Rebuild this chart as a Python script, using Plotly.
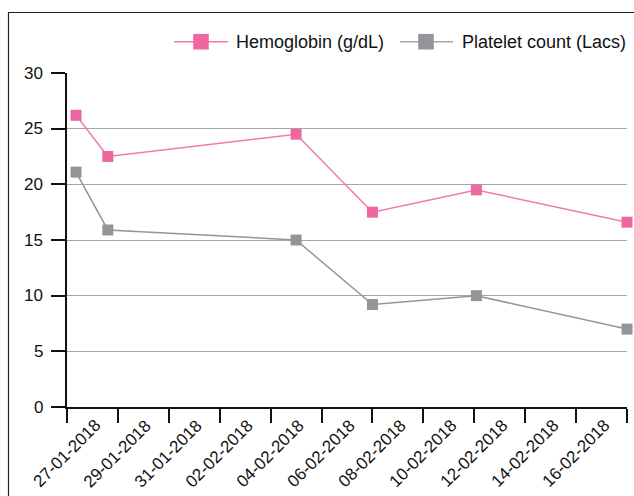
import plotly.graph_objects as go

dates = ["2018-01-27 08:30", "2018-01-28 14:30", "2018-02-05 00:00",
         "2018-02-08 00:00", "2018-02-12 02:00", "2018-02-18 00:00"]
hemoglobin = [26.2, 22.5, 24.5, 17.5, 19.5, 16.6]
platelet = [21.1, 15.9, 15.0, 9.2, 10.0, 7.0]

tick_vals = ["2018-01-27", "2018-01-29", "2018-01-31", "2018-02-02", "2018-02-04",
             "2018-02-06", "2018-02-08", "2018-02-10", "2018-02-12", "2018-02-14",
             "2018-02-16", "2018-02-18"]
tick_text = ["27-01-2018", "29-01-2018", "31-01-2018", "02-02-2018", "04-02-2018",
             "06-02-2018", "08-02-2018", "10-02-2018", "12-02-2018", "14-02-2018",
             "16-02-2018", ""]
y_ticks = [0, 5, 10, 15, 20, 25, 30]
y_tick_text = ["0", "5", "10", "15", "20", "25", "30"]
series_names = ["Hemoglobin (g/dL)", "Platelet count (Lacs)"]

PINK = "#ef67a1"
PINK_LINE = "#f07aae"
GRAY = "#949599"
FONT = "Liberation Sans, Arial, sans-serif"

# plot-area geometry (pixels) used to place paper-referenced decorations
L, R, T, B = 67, 7, 73, 89
W, H = 634, 496
PW, PH = W - L - R, H - T - B


def px(x):
    return (x - L) / PW


def py(y):
    return (H - B - y) / PH


fig = go.Figure()
fig.add_trace(go.Scatter(x=dates, y=hemoglobin, name=series_names[0],
                         mode="lines+markers", cliponaxis=False,
                         line=dict(color=PINK_LINE, width=1.5),
                         marker=dict(symbol="square", size=11, color=PINK)))
fig.add_trace(go.Scatter(x=dates, y=platelet, name=series_names[1],
                         mode="lines+markers", cliponaxis=False,
                         line=dict(color=GRAY, width=1.5),
                         marker=dict(symbol="square", size=11, color=GRAY)))

shapes = [dict(type="rect", xref="paper", yref="paper",
               x0=px(8.5), x1=px(660), y0=py(520), y1=py(12.5),
               line=dict(color="#222", width=1.2), fillcolor="rgba(0,0,0,0)",
               layer="below")]
annotations = []
# custom legend (line + square + label)
legend_items = [(series_names[0], PINK_LINE, PINK, 174, 228, 201, 235),
                (series_names[1], "#a7a8ab", GRAY, 400, 453, 426, 461)]
LY = 41.7
for name, lc, mc, lx0, lx1, mx, tx in legend_items:
    shapes.append(dict(type="line", xref="paper", yref="paper",
                       x0=px(lx0), x1=px(lx1), y0=py(LY), y1=py(LY),
                       line=dict(color=lc, width=1.5)))
    shapes.append(dict(type="rect", xref="paper", yref="paper",
                       x0=px(mx - 7.8), x1=px(mx + 7.8),
                       y0=py(LY + 7.8), y1=py(LY - 7.8),
                       line=dict(width=0), fillcolor=mc))
    annotations.append(dict(text=name, xref="paper", yref="paper",
                            x=px(tx), y=py(LY), xanchor="left", yanchor="middle",
                            showarrow=False, borderpad=0,
                            font=dict(size=18, color="#111", family=FONT)))

# rotated date labels, centred under each tick
for tv, tt in zip(tick_vals, tick_text):
    if not tt:
        continue
    annotations.append(dict(text=tt, x=tv, xref="x", y=py(415), yref="paper",
                            xanchor="center", yanchor="top", textangle=-45,
                            showarrow=False, borderpad=0,
                            font=dict(size=17, color="#111", family=FONT)))

# y tick labels
for yv, yt in zip(y_ticks, y_tick_text):
    annotations.append(dict(text=yt, x=px(43.5), xref="paper", y=yv, yref="y",
                            xanchor="right", yanchor="middle",
                            showarrow=False, borderpad=0,
                            font=dict(size=17, color="#111", family=FONT)))

fig.update_layout(
    width=W, height=H,
    margin=dict(l=L, r=R, t=T, b=B),
    paper_bgcolor="white", plot_bgcolor="white",
    font=dict(family=FONT, size=17, color="#111"),
    showlegend=False,
    xaxis=dict(type="date", range=["2018-01-27", "2018-02-18"],
               tickmode="array", tickvals=tick_vals, ticktext=tick_text,
               showticklabels=False, ticks="outside", ticklen=14, tickwidth=1.5,
               tickcolor="#111", showline=True, linecolor="#111", linewidth=1.5,
               showgrid=False, zeroline=False, automargin=False),
    yaxis=dict(range=[0, 30], tickmode="array", tickvals=y_ticks,
               showticklabels=False,
               ticks="outside", ticklen=14, tickwidth=1.5, tickcolor="#111",
               showline=True, linecolor="#111", linewidth=1.5,
               showgrid=True, gridcolor="#a6a6a6", gridwidth=1, zeroline=False,
               automargin=False),
    shapes=shapes,
    annotations=annotations,
)

fig.write_html("out.html", config={"displayModeBar": False},
               post_script="document.body.style.margin='0';document.body.style.overflow='hidden';")
